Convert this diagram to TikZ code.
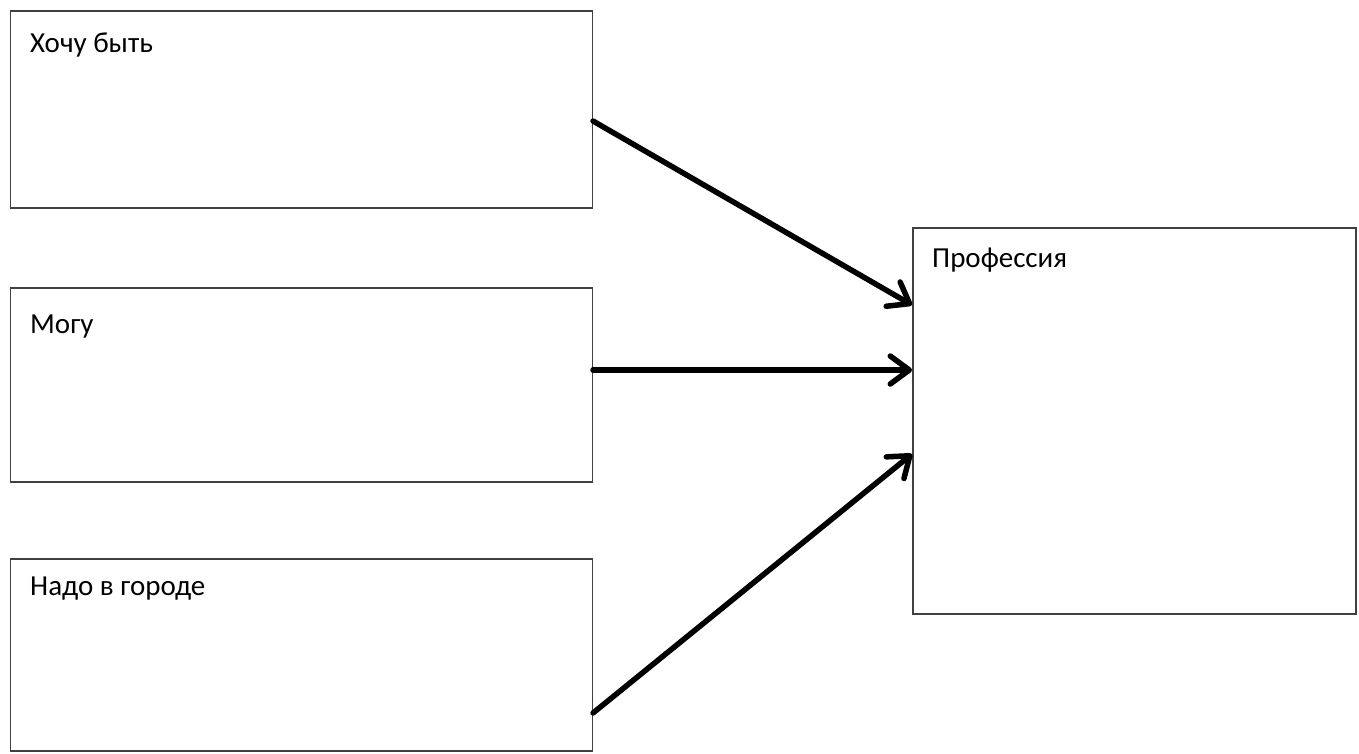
\documentclass[tikz,border=0pt]{standalone}
\usepackage{fontspec}
\setmainfont{Carlito}
\usetikzlibrary{arrows.meta}
\begin{document}
\begin{tikzpicture}[x=1pt,y=-1pt,
  box/.style={draw=black!75,line width=1.5pt},
  lbl/.style={anchor=base west,inner sep=0pt,font=\fontsize{29}{33}\selectfont},
  conn/.style={line width=5.5pt,line cap=round,-{Straight Barb[length=19pt,width=28pt,line width=5.5pt,round]}}]
\useasboundingbox (0,0) rectangle (1359,753);
\node[box,minimum width=582pt,minimum height=197pt,anchor=north west,inner sep=0pt] (b1) at (9.5,10) {};
\node[box,minimum width=582pt,minimum height=194pt,anchor=north west,inner sep=0pt] (b2) at (9.5,287) {};
\node[box,minimum width=582pt,minimum height=192pt,anchor=north west,inner sep=0pt] (b3) at (9.5,558) {};
\node[box,minimum width=443pt,minimum height=386pt,anchor=north west,inner sep=0pt] (b4) at (912,227) {};
\node[lbl] (t1) at (30,52) {Хочу быть};
\node[lbl] (t2) at (30,333) {Могу};
\node[lbl] (t3) at (30,595) {Надо в городе};
\node[lbl] (t4) at (932,267) {Профессия};
\coordinate (s1) at (b1.north east |- 0,121);
\coordinate (s2) at (b2.north east |- 0,370);
\coordinate (s3) at (b3.north east |- 0,713);
\coordinate (e1) at (b4.north west |- 0,305);
\coordinate (e2) at (b4.north west |- 0,370);
\coordinate (e3) at (b4.north west |- 0,454);
\draw[conn] (s1) -- (e1);
\draw[conn] (s2) -- (e2);
\draw[conn] (s3) -- (e3);
\end{tikzpicture}
\end{document}
